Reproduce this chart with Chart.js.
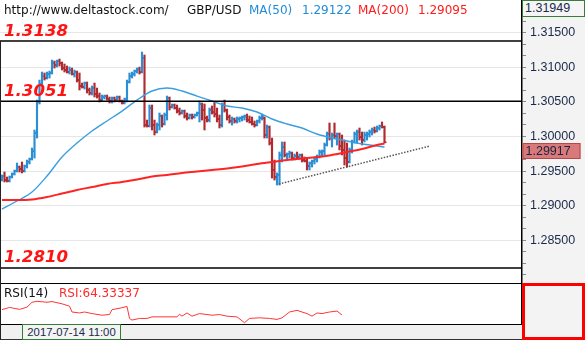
<!DOCTYPE html>
<html>
<head>
<meta charset="utf-8">
<script src="https://cdn.jsdelivr.net/npm/chart.js@4/dist/chart.umd.min.js"></script>
<style>
  html, body { margin: 0; padding: 0; background: #fff; }
  #wrap { position: relative; width: 585px; height: 340px; overflow: hidden; background: #fff; }
  canvas { position: absolute; left: 0; }
  #main { top: 0; }
  #rsi { top: 284px; }
  .txt { position: absolute; white-space: nowrap; font-family: "DejaVu Sans", sans-serif; font-size: 12px; line-height: 14px; }
  .hline { position: absolute; left: 0; width: 522px; height: 1px; background: #000; }
  #strip { position: absolute; left: 0; top: 324px; width: 522px; height: 16px; box-sizing: border-box;
           background: #f0f0f0; border-top: 1px solid #000; border-bottom: 1px solid #333; }
  #dateBox { position: absolute; left: 22px; top: 324px; width: 99px; height: 16px; box-sizing: border-box;
             border: 1px solid #2e7d32; background: #f4f4f4; color: #1b2a4a; text-align: center;
             font-family: "Liberation Sans", sans-serif; font-size: 11.3px; line-height: 14px; }
  #rsiAxisBox { position: absolute; left: 522px; top: 283px; width: 63px; height: 57px; box-sizing: border-box;
                border: 3px solid #ff0000; background: #f3f3f3; }
  #topBox { position: absolute; left: 522px; top: 0; width: 63px; height: 17px; box-sizing: border-box;
            border: 1px solid #3a7d3a; background: #f5f5f5; color: #1b2a4a; padding-left: 2px;
            font-family: "Liberation Sans", sans-serif; font-size: 12.5px; line-height: 15px; }
  #leftEdge { position: absolute; left: 0; top: 41px; width: 1px; height: 299px; background: #222; }
</style>
</head>
<body>
<div id="wrap">
  <canvas id="main" width="585" height="283"></canvas>
  <div class="hline" style="top:283px"></div>
  <canvas id="rsi" width="585" height="40"></canvas>
  <div id="strip"></div>
  <div id="dateBox"></div>
  <div id="rsiAxisBox"></div>
  <div id="topBox"></div>
  <div id="leftEdge"></div>

  <div class="txt" style="left:4px;top:3px;color:#111">http://www.deltastock.com/</div>
  <div class="txt" id="symbol" style="left:187px;top:3px;color:#111"></div>
  <div class="txt" style="left:249px;top:3px;color:#1f8dd6">MA(50)</div>
  <div class="txt" id="ma50Val" style="left:302px;top:3px;color:#1f8dd6"></div>
  <div class="txt" style="left:358px;top:3px;color:#ff1a1a">MA(200)</div>
  <div class="txt" id="ma200Val" style="left:418px;top:3px;color:#ff1a1a"></div>

  <div class="txt" style="left:4px;top:286px;color:#111">RSI(14)</div>
  <div class="txt" id="rsiVal" style="left:59px;top:286px;color:#ff2a2a"></div>
</div>

<script>
// ---- instrument / header values ----
const symbol = 'GBP/USD';
const ma50Last = '1.29122';
const ma200Last = '1.29095';
const topPrice = '1.31949';
const rsiLast = 'RSI:64.33337';
const cursorTime = '2017-07-14 11:00';

// ---- hourly OHLC bars (index = bar number) ----
const opens = [
  1.29400,1.29429,1.29371,1.29357,1.29415,1.29458,1.29502,1.29559,1.29530,1.29502,
  1.29574,1.29632,1.29675,1.29790,1.30051,1.30499,1.30759,1.30874,1.30845,1.30903,
  1.30918,1.31062,1.31033,1.31091,1.31062,1.30990,1.30961,1.30932,1.30961,1.30903,
  1.30932,1.30816,1.30730,1.30715,1.30773,1.30672,1.30629,1.30701,1.30614,1.30585,
  1.30527,1.30571,1.30585,1.30542,1.30513,1.30556,1.30527,1.30571,1.30513,1.30484,
  1.30542,1.30788,1.30874,1.30903,1.30946,1.30975,1.30932,1.31134,1.30166,1.30152,
  1.30412,1.30166,1.30065,1.30166,1.30296,1.30181,1.30311,1.30556,1.30426,1.30455,
  1.30412,1.30368,1.30340,1.30368,1.30296,1.30267,1.30311,1.30282,1.30311,1.30340,
  1.30470,1.30383,1.30267,1.30238,1.30383,1.30354,1.30325,1.30253,1.30166,1.30455,
  1.30383,1.30282,1.30224,1.30253,1.30224,1.30253,1.30267,1.30282,1.30296,1.30238,
  1.30210,1.30181,1.30166,1.30224,1.30267,1.30267,1.30022,1.30137,1.29906,1.29516,
  1.29415,1.29444,1.29733,1.29848,1.29733,1.29747,1.29762,1.29689,1.29718,1.29704,
  1.29733,1.29660,1.29646,1.29574,1.29617,1.29646,1.29675,1.29704,1.29776,1.29790,
  1.29877,1.30036,1.29978,1.30022,1.30007,1.30036,1.29863,1.29805,1.29689,1.29632,
  1.29805,1.29921,1.30036,1.30065,1.29993,1.29949,1.30022,1.30036,1.30065,1.30094,
  1.30079,1.30123,1.30152,1.30137
];
const highs = [
  1.29444,1.29487,1.29415,1.29429,1.29473,1.29516,1.29617,1.29574,1.29632,1.29588,
  1.29660,1.29689,1.29834,1.30094,1.30527,1.30816,1.30932,1.30918,1.30932,1.30946,
  1.31105,1.31091,1.31105,1.31120,1.31077,1.31048,1.31019,1.31004,1.30990,1.30961,
  1.30946,1.30918,1.30773,1.30788,1.30788,1.30701,1.30730,1.30773,1.30701,1.30629,
  1.30600,1.30600,1.30600,1.30571,1.30571,1.30571,1.30585,1.30585,1.30527,1.30556,
  1.30816,1.30918,1.30932,1.30961,1.30990,1.31004,1.31221,1.31178,1.30238,1.30455,
  1.30455,1.30238,1.30195,1.30340,1.30311,1.30340,1.30585,1.30571,1.30470,1.30470,
  1.30455,1.30412,1.30383,1.30383,1.30340,1.30325,1.30325,1.30325,1.30354,1.30513,
  1.30484,1.30470,1.30296,1.30412,1.30441,1.30499,1.30412,1.30311,1.30484,1.30527,
  1.30397,1.30311,1.30282,1.30267,1.30282,1.30282,1.30296,1.30311,1.30325,1.30296,
  1.30282,1.30224,1.30238,1.30296,1.30325,1.30282,1.30166,1.30152,1.29978,1.29660,
  1.29473,1.29776,1.29921,1.29921,1.29762,1.29790,1.29776,1.29747,1.29776,1.29747,
  1.29747,1.29704,1.29689,1.29632,1.29660,1.29704,1.29733,1.29805,1.29805,1.29906,
  1.30065,1.30195,1.30051,1.30195,1.30051,1.30051,1.30022,1.29949,1.29906,1.29834,
  1.29949,1.30065,1.30094,1.30123,1.30065,1.30065,1.30065,1.30094,1.30123,1.30137,
  1.30152,1.30166,1.30210,1.30152
];
const lows = [
  1.29357,1.29343,1.29343,1.29343,1.29400,1.29444,1.29487,1.29487,1.29473,1.29487,
  1.29545,1.29603,1.29660,1.29689,1.29978,1.30470,1.30730,1.30816,1.30831,1.30845,
  1.30903,1.30990,1.31004,1.31019,1.30961,1.30932,1.30918,1.30903,1.30889,1.30860,
  1.30788,1.30672,1.30701,1.30686,1.30629,1.30600,1.30600,1.30571,1.30556,1.30499,
  1.30513,1.30542,1.30527,1.30484,1.30484,1.30499,1.30513,1.30499,1.30470,1.30470,
  1.30499,1.30773,1.30845,1.30874,1.30918,1.30903,1.30918,1.30137,1.30137,1.30137,
  1.30094,1.30022,1.30051,1.30094,1.30137,1.30166,1.30238,1.30383,1.30412,1.30397,
  1.30340,1.30311,1.30325,1.30267,1.30238,1.30253,1.30253,1.30267,1.30296,1.30210,
  1.30238,1.30094,1.30210,1.30210,1.30325,1.30282,1.30210,1.30123,1.30137,1.30354,
  1.30238,1.30195,1.30166,1.30195,1.30195,1.30210,1.30224,1.30238,1.30210,1.30195,
  1.30166,1.30137,1.30152,1.30195,1.30238,1.29978,1.29978,1.29877,1.29400,1.29371,
  1.29299,1.29299,1.29632,1.29704,1.29660,1.29689,1.29660,1.29660,1.29675,1.29675,
  1.29632,1.29632,1.29516,1.29516,1.29559,1.29603,1.29632,1.29689,1.29704,1.29733,
  1.29863,1.29949,1.29848,1.29978,1.29877,1.29805,1.29733,1.29588,1.29559,1.29617,
  1.29762,1.29906,1.29906,1.29949,1.29877,1.29921,1.29949,1.29993,1.30022,1.30051,
  1.30065,1.30094,1.30123,1.29906
];
const closes = [
  1.29429,1.29371,1.29357,1.29415,1.29458,1.29502,1.29559,1.29530,1.29502,1.29574,
  1.29632,1.29675,1.29790,1.30051,1.30499,1.30759,1.30874,1.30845,1.30903,1.30918,
  1.31062,1.31033,1.31091,1.31062,1.30990,1.30961,1.30932,1.30961,1.30903,1.30932,
  1.30816,1.30730,1.30715,1.30773,1.30672,1.30629,1.30701,1.30614,1.30585,1.30527,
  1.30571,1.30585,1.30542,1.30513,1.30556,1.30527,1.30571,1.30513,1.30484,1.30542,
  1.30788,1.30874,1.30903,1.30946,1.30975,1.30932,1.31134,1.30166,1.30152,1.30412,
  1.30166,1.30065,1.30166,1.30296,1.30181,1.30311,1.30556,1.30426,1.30455,1.30412,
  1.30368,1.30340,1.30368,1.30296,1.30267,1.30311,1.30282,1.30311,1.30340,1.30470,
  1.30383,1.30267,1.30238,1.30383,1.30354,1.30325,1.30253,1.30166,1.30455,1.30383,
  1.30282,1.30224,1.30253,1.30224,1.30253,1.30267,1.30282,1.30296,1.30238,1.30210,
  1.30181,1.30166,1.30224,1.30267,1.30296,1.30022,1.30137,1.29906,1.29516,1.29415,
  1.29444,1.29733,1.29848,1.29733,1.29747,1.29762,1.29689,1.29718,1.29704,1.29733,
  1.29660,1.29646,1.29574,1.29617,1.29646,1.29675,1.29704,1.29776,1.29790,1.29877,
  1.30036,1.29978,1.30022,1.30007,1.30036,1.29863,1.29805,1.29689,1.29632,1.29805,
  1.29921,1.30036,1.30065,1.29993,1.29949,1.30022,1.30036,1.30065,1.30094,1.30079,
  1.30123,1.30152,1.30137,1.29917
];

// ---- moving averages, sampled at bar numbers ----
const maIdx = [0,6,12,18,24,30,36,42,48,54,60,66,72,78,84,90,96,102,108,114,120,126,132,138,144,150,153];
const ma50 = [1.28952,1.29068,1.29198,1.29429,1.29704,1.29906,1.30079,1.30224,1.30368,1.30527,
              1.30658,1.30701,1.30658,1.30585,1.30513,1.30441,1.30412,1.30354,1.30253,1.30181,
              1.30123,1.30036,1.29978,1.29935,1.29892,1.29863,1.29848];
const ma200 = [1.29082,1.29082,1.29090,1.29126,1.29176,1.29227,1.29270,1.29314,1.29343,1.29379,
               1.29422,1.29444,1.29473,1.29494,1.29516,1.29538,1.29567,1.29603,1.29632,1.29660,
               1.29682,1.29704,1.29733,1.29776,1.29819,1.29877,1.29899];

// ---- horizontal levels and support trend line ----
const levels = [1.3138, 1.3051, 1.2810];
const trendIdx = [110.8, 171.2];
const trendVals = [1.29314, 1.29863];

// ---- price axis ----
const priceLabels = [1.285, 1.290, 1.295, 1.300, 1.305, 1.310, 1.315];
const priceStep = 0.005;
const minorPerStep = 3;
const Y_MIN = 1.27883, Y_MAX = 1.31973;
const X_MIN = -0.8, X_MAX = 208;

// ---- RSI(14) ----
const rsiIdx = [0,3,7,10,12,14,18,20,24,27,28,31,33,36,40,43,44,48,50,51,
                52,55,58,60,66,70,71,72,74,76,79,84,87,90,94,97,99,103,107,110,
                112,115,118,120,122,124,126,128,131,134,136];
const rsiVals = [70.5,73.1,70.8,73.4,79.0,80.1,79.0,79.8,77.2,74.5,67.8,66.7,67.8,66.0,64.1,64.9,70.5,72.7,74.2,60.4,
                 58.5,60.4,60.4,62.2,62.2,62.2,65.2,63.0,66.7,63.0,66.0,64.1,64.9,63.0,62.2,55.5,60.4,61.1,60.4,59.3,
                 61.1,67.8,69.7,67.8,66.0,63.0,66.7,66.0,67.8,68.9,64.33];
const RSI_MIN = 54, RSI_MAX = 100;

// ---- colours ----
const UP = '#2b8fd6', DOWN = '#b02a30';
const MA50_COLOR = '#3a9fe0', MA200_COLOR = '#ff2424';

document.getElementById('symbol').textContent = symbol;
document.getElementById('ma50Val').textContent = ma50Last;
document.getElementById('ma200Val').textContent = ma200Last;
document.getElementById('topBox').textContent = topPrice;
document.getElementById('rsiVal').textContent = rsiLast;
document.getElementById('dateBox').textContent = cursorTime;

const pts = (xs, ys) => xs.map((x, k) => ({ x, y: ys[k] }));
const barColors = opens.map((o, i) => closes[i] >= o ? UP : DOWN);

// axis tick positions: labelled steps plus two minor marks in between
const axisTicks = [];
for (let v = priceLabels[0] - priceStep; v <= Y_MAX + 1e-9; v += priceStep / minorPerStep) {
  axisTicks.push(+v.toFixed(6));
}
const isLabelled = v => priceLabels.some(p => Math.abs(p - v) < 1e-7);

// grey backdrop behind the right-hand price axis
const axisBackdrop = {
  id: 'axisBackdrop',
  beforeDraw(chart) {
    const { ctx, chartArea, width, height } = chart;
    ctx.save();
    ctx.fillStyle = '#f3f3f3';
    ctx.fillRect(chartArea.right, 0, width - chartArea.right, height);
    ctx.restore();
  }
};

// level captions and the last-price tag
const levelCaptions = {
  id: 'levelCaptions',
  afterDraw(chart) {
    const { ctx, chartArea } = chart;
    const ys = chart.scales.y;
    ctx.save();
    ctx.font = 'italic bold 16.6px "DejaVu Sans"';
    ctx.fillStyle = '#ff1414';
    ctx.textBaseline = 'alphabetic';
    levels.forEach(l => ctx.fillText(l.toFixed(4), 4, ys.getPixelForValue(l) - 5.5));

    const last = closes[closes.length - 1];
    const py = ys.getPixelForValue(last);
    const bx = chartArea.right + 0.5, bw = 58, bh = 16, by = Math.round(py) + 1;
    ctx.fillStyle = '#d97a7a';
    ctx.strokeStyle = '#b54848';
    ctx.lineWidth = 1;
    ctx.fillRect(bx, by, bw, bh);
    ctx.strokeRect(bx + 0.5, by + 0.5, bw - 1, bh - 1);
    ctx.fillStyle = '#1d2340';
    ctx.font = '12.5px "Liberation Sans"';
    ctx.textBaseline = 'middle';
    ctx.fillText(last.toFixed(5), bx + 3, by + bh / 2 + 0.5);
    ctx.restore();
  }
};

const lineDs = (data, color, width, extra) => Object.assign({
  type: 'line', data, borderColor: color, borderWidth: width,
  pointRadius: 0, pointHoverRadius: 0, fill: false, tension: 0
}, extra || {});

const datasets = [];
levels.forEach(l => datasets.push(lineDs([{ x: X_MIN, y: l }, { x: X_MAX, y: l }], '#000', 1.5)));
datasets.push(lineDs(pts(trendIdx, trendVals), '#555', 1.5, { borderDash: [1.5, 1.5] }));
datasets.push(lineDs(pts(maIdx, ma200), MA200_COLOR, 2, { cubicInterpolationMode: 'monotone' }));
datasets.push(lineDs(pts(maIdx, ma50), MA50_COLOR, 1.4, { cubicInterpolationMode: 'monotone' }));
// close ticks (right) and open ticks (left)
const tickDs = (vals, shift) => ({
  type: 'scatter', data: vals.map((v, i) => ({ x: i + shift, y: v })),
  pointStyle: 'line', pointRadius: 1, pointHoverRadius: 1, pointBorderWidth: 1.5,
  pointBorderColor: barColors, pointBackgroundColor: barColors, showLine: false
});
datasets.push(tickDs(closes, 0.4));
datasets.push(tickDs(opens, -0.4));
// high-low ranges
datasets.push({
  type: 'bar', data: highs.map((h, i) => ({ x: i, y: [lows[i], h] })),
  backgroundColor: barColors, borderWidth: 0, barThickness: 1.5, grouped: false
});

new Chart(document.getElementById('main'), {
  type: 'bar',
  data: { datasets },
  options: {
    responsive: false, animation: false, devicePixelRatio: 1, events: [],
    layout: { padding: 0, autoPadding: false },
    plugins: { legend: { display: false }, tooltip: { enabled: false } },
    scales: {
      x: { type: 'linear', display: false, min: X_MIN, max: X_MAX, offset: false },
      y: {
        position: 'right', min: Y_MIN, max: Y_MAX,
        afterFit(s) { s.width = 63; s.paddingTop = 0; s.paddingBottom = 0; },
        afterBuildTicks(s) { s.ticks = axisTicks.map(v => ({ value: v })); },
        ticks: {
          autoSkip: false, padding: 4, color: '#1b2a4a',
          font: { family: 'Liberation Sans', size: 12.5 },
          callback: v => isLabelled(v) ? v.toFixed(5) : ''
        },
        grid: {
          color: c => (c.tick && isLabelled(c.tick.value)) ? '#e6e6e6' : 'rgba(0,0,0,0)',
          tickColor: '#8a8a8a', tickLength: 4, lineWidth: 1
        },
        border: { color: '#000', width: 1.5 }
      }
    }
  },
  plugins: [axisBackdrop, levelCaptions]
});

new Chart(document.getElementById('rsi'), {
  type: 'line',
  data: { datasets: [lineDs(pts(rsiIdx, rsiVals), '#ff3535', 1)] },
  options: {
    responsive: false, animation: false, devicePixelRatio: 1, events: [],
    layout: { padding: 0, autoPadding: false },
    plugins: { legend: { display: false }, tooltip: { enabled: false } },
    scales: {
      x: { type: 'linear', display: false, min: X_MIN, max: X_MAX },
      y: {
        position: 'right', min: RSI_MIN, max: RSI_MAX,
        afterFit(s) { s.width = 63; s.paddingTop = 0; s.paddingBottom = 0; },
        ticks: { display: false },
        grid: { display: false },
        border: { color: '#000', width: 1.5 }
      }
    }
  },
  plugins: [axisBackdrop]
});
</script>
</body>
</html>
